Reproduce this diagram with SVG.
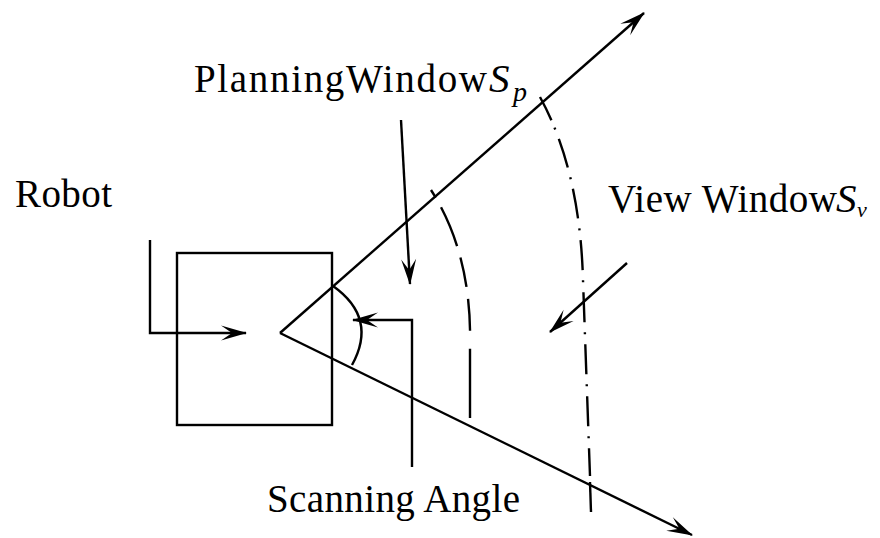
<svg xmlns="http://www.w3.org/2000/svg" width="880" height="538" viewBox="0 0 880 538">
<style>
.ln{fill:none;stroke:#000;stroke-width:2.4}
.arr{marker-end:url(#ah)}
</style>
<defs>
<marker id="ah" markerUnits="userSpaceOnUse" viewBox="-26 -8 28 16" refX="0" refY="0" markerWidth="28" markerHeight="16" orient="auto">
<path d="M1,0 L-25,-7.5 L-14,0 L-25,7.5 Z" fill="#000"/>
</marker>
</defs>
<rect width="880" height="538" fill="#fff"/>
<g id="robot">
<rect class="ln" x="177" y="253" width="155" height="172"/>
</g>
<g id="cone">
<path class="ln arr" d="M280,333 L644,13"/>
<path class="ln arr" d="M280,333 L692,535"/>
<path class="ln" d="M333,286 Q378,318 352,365"/>
</g>
<g id="planning-window">
<path class="ln" d="M431,190 Q472,254 470,345 L470,418" stroke-dasharray="9 11 42 12 30 12 32 18 80"/>
</g>
<g id="view-window">
<path class="ln" d="M540,97 Q580,170 583,280 L590,476" stroke-dasharray="26 8 2 10 30 10 2 10 30 10 2 10 30 10 2 10 30 10 2 10 30 10 2 10 30 10 2 10 30 10 2 10"/>
<path class="ln" d="M590,482 L591,512"/>
</g>
<g id="connectors">
<path class="ln arr" d="M150,240 L150,333 L246,333"/>
<path class="ln arr" d="M401,120 L410,284"/>
<path class="ln arr" d="M412,467 L412,320 L353,320"/>
<path class="ln arr" d="M627,263 L550,332"/>
</g>
<g id="labels" font-family="Liberation Serif, Times New Roman, DejaVu Serif, serif" font-size="39" fill="#000">
<text x="194" y="92" textLength="293" lengthAdjust="spacing">PlanningWindow</text>
<text x="489" y="92" font-size="41" font-style="italic">S</text>
<text x="513" y="101" font-size="28" font-style="italic">p</text>
<text x="15" y="207" textLength="97" lengthAdjust="spacing">Robot</text>
<text x="608" y="212" textLength="229" lengthAdjust="spacing">View Window</text>
<text x="836" y="212" font-size="41" font-style="italic">S</text>
<text x="857" y="217" font-size="22" font-style="italic">v</text>
<text x="267" y="512" textLength="253" lengthAdjust="spacing">Scanning Angle</text>
</g>
</svg>
